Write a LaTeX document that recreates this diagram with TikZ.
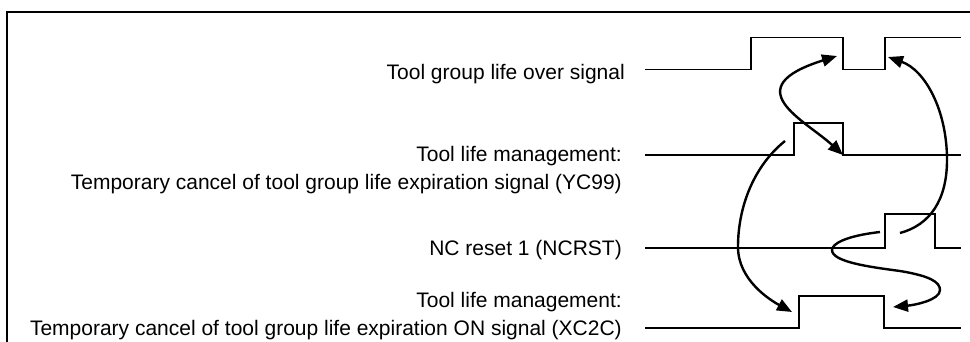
\documentclass[tikz,border=0pt]{standalone}
\usepackage{fontspec}
\setmainfont{Liberation Sans}
\usetikzlibrary{arrows.meta}

\begin{document}
\begin{tikzpicture}[x=1pt, y=-1pt, >={Triangle[length=15pt,width=12pt]},
    signal/.style={line width=1.8pt},
    link/.style={line width=2.4pt},
    siglabel/.style={anchor=base east, inner sep=0pt, align=right,
        font=\fontsize{21}{27.5}\selectfont}]
    \useasboundingbox (0,0) rectangle (970,342);

    % frame
    \draw[line width=2pt] (7,342) -- (7,12) -- (970,12);

    % signal names
    \node[siglabel] (lblover) at (625,79.3) {Tool group life over signal};
    \node[siglabel] (lblcancel) at (622,189.3) {Tool life management:\\Temporary cancel of tool group life expiration signal (YC99)};
    \node[siglabel] (lblreset) at (622,255) {NC reset 1 (NCRST)};
    \node[siglabel] (lblon) at (622,335) {Tool life management:\\Temporary cancel of tool group life expiration ON signal (XC2C)};

    % waveforms
    \draw[signal] (645,69.5) -- (751,69.5) -- (751,37.5) -- (843,37.5)
        -- (843,69.5) -- (885,69.5) -- (885,37.5) -- (961,37.5);
    \draw[signal] (645,155) -- (794,155) -- (794,122.7) -- (843,122.7)
        -- (843,155) -- (961,155);
    \draw[signal] (645,247.7) -- (885,247.7) -- (885,214.3) -- (935,214.3)
        -- (935,247.7) -- (961,247.7);
    \draw[signal] (645,328.3) -- (799,328.3) -- (799,295.7) -- (884,295.7)
        -- (884,328.3) -- (961,328.3);

    % arrow ends
    \coordinate (overdown) at (837,56);
    \coordinate (canceldown) at (843,155);
    \coordinate (cancelup) at (785,141);
    \coordinate (onup) at (792,312);
    \coordinate (resetpulse) at (900,233);
    \coordinate (overup) at (888,57);
    \coordinate (resetup) at (880,232);
    \coordinate (ondown) at (893,307);

    % causes
    \draw[link, <->] (overdown) .. controls (735,88) and (805,120) .. (canceldown);
    \draw[link, ->] (cancelup) .. controls (755,165) and (738,205) .. (738,247)
        .. controls (738,280) and (770,300) .. (onup);
    \draw[link, ->] (resetpulse) .. controls (930,225) and (947,200) .. (947,160)
        .. controls (947,110) and (925,70) .. (overup);
    \draw[link, ->] (resetup) .. controls (845,236) and (832,244) .. (832,250)
        .. controls (832,262) and (870,267) .. (900,271)
        .. controls (930,276) and (940,282) .. (940,290)
        .. controls (940,300) and (915,305) .. (ondown);
\end{tikzpicture}
\end{document}
